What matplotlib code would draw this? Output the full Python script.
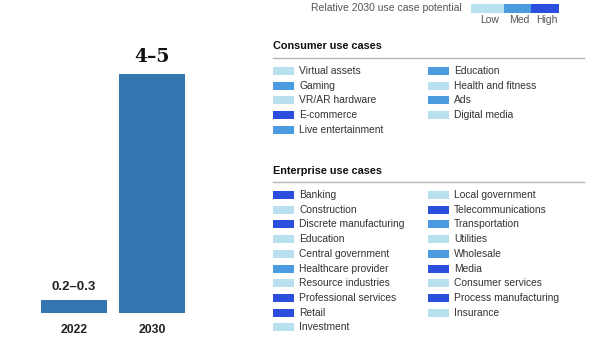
import matplotlib.pyplot as plt

# bar chart values (midpoints of the ranges shown)
YEARS = ["2022", "2030"]
VALUES = [0.25, 4.5]
VALUE_LABELS = ["0.2\u20130.3", "4\u20135"]

# relative 2030 use case potential: 0 = low, 1 = med, 2 = high
LEVEL_NAMES = ["Low", "Med", "High"]
CONSUMER_LEFT = ["Virtual assets", "Gaming", "VR/AR hardware", "E-commerce", "Live entertainment"]
CONSUMER_LEFT_LVL = [0, 1, 0, 2, 1]
CONSUMER_RIGHT = ["Education", "Health and fitness", "Ads", "Digital media"]
CONSUMER_RIGHT_LVL = [1, 0, 1, 0]
ENTERPRISE_LEFT = ["Banking", "Construction", "Discrete manufacturing", "Education",
                   "Central government", "Healthcare provider", "Resource industries",
                   "Professional services", "Retail", "Investment"]
ENTERPRISE_LEFT_LVL = [2, 0, 2, 0, 0, 1, 0, 2, 2, 0]
ENTERPRISE_RIGHT = ["Local government", "Telecommunications", "Transportation", "Utilities",
                    "Wholesale", "Media", "Consumer services", "Process manufacturing", "Insurance"]
ENTERPRISE_RIGHT_LVL = [0, 2, 1, 0, 1, 2, 0, 2, 0]

LEVEL_COLORS = ["#b9e0ee", "#4a9be0", "#2b4fdc"]
BAR_COLOR = "#3477b0"
SANS = ["Liberation Sans", "DejaVu Sans"]

W, H = 600, 357
fig = plt.figure(figsize=(6, 3.57), dpi=100)

# --- bar chart ---
ax = fig.add_axes([0, 1 - 313 / H, 260 / W, 273 / H])
x = range(len(YEARS))
bars = ax.bar(x, VALUES, width=0.846, color=BAR_COLOR)
ax.set_xlim(-0.949, 2.385)
ax.set_ylim(0, 5.14)
for b, lab, i in zip(bars, VALUE_LABELS, x):
    if i == 1:
        ax.annotate(lab, (b.get_x() + b.get_width() / 2, b.get_height()), xytext=(0, 6),
                    textcoords="offset points", ha="center", va="bottom",
                    fontsize=13.5, fontweight="bold", family="DejaVu Serif", color="#111")
    else:
        ax.annotate(lab, (b.get_x() + b.get_width() / 2, b.get_height()), xytext=(0, 5),
                    textcoords="offset points", ha="center", va="bottom",
                    fontsize=9.5, fontweight="bold", family=SANS, color="#222")
ax.set_xticks(list(x))
ax.set_xticklabels(YEARS, fontsize=8.8, fontweight="bold", family=SANS, color="#222")
ax.tick_params(axis="x", length=0, pad=8)
ax.set_yticks([])
for s in ax.spines.values():
    s.set_visible(False)

# --- legend panel, in pixel coordinates ---
lg = fig.add_axes([0, 0, 1, 1])
lg.set_xlim(0, W)
lg.set_ylim(H, 0)
lg.axis("off")
lg.patch.set_alpha(0)

# scale key
lg.text(462, 8, "Relative 2030 use case potential", fontsize=7.5, family=SANS,
        color="#555", ha="right", va="center")
key_x = [471, 504, 531]
key_w = [33, 27, 28]
lg.barh([8] * 3, key_w, left=key_x, height=9, color=LEVEL_COLORS)
for kx, kw, name in zip(key_x, key_w, LEVEL_NAMES):
    lg.text(kx + kw / 2 + 2, 20, name, fontsize=7.5, family=SANS, color="#555",
            ha="center", va="center")

ROW = 14.7


def draw_group(title, y_title, y_line, y0, cols):
    lg.text(273, y_title, title, fontsize=7.8, fontweight="bold", family=SANS,
            color="#111", va="center")
    lg.plot([273, 584], [y_line, y_line], color="#b5b5b5", lw=1)
    for sx, names, lvls in cols:
        ys = [y0 + i * ROW for i in range(len(names))]
        lg.barh(ys, 21, left=sx, height=8, color=[LEVEL_COLORS[l] for l in lvls])
        for yy, n in zip(ys, names):
            lg.text(sx + 26, yy, n, fontsize=7.4, family=SANS, color="#333", va="center")


draw_group("Consumer use cases", 46, 57.5, 71,
           [(273, CONSUMER_LEFT, CONSUMER_LEFT_LVL), (428, CONSUMER_RIGHT, CONSUMER_RIGHT_LVL)])
draw_group("Enterprise use cases", 171, 181.5, 195,
           [(273, ENTERPRISE_LEFT, ENTERPRISE_LEFT_LVL), (428, ENTERPRISE_RIGHT, ENTERPRISE_RIGHT_LVL)])

fig.savefig("out.png", dpi=100)
